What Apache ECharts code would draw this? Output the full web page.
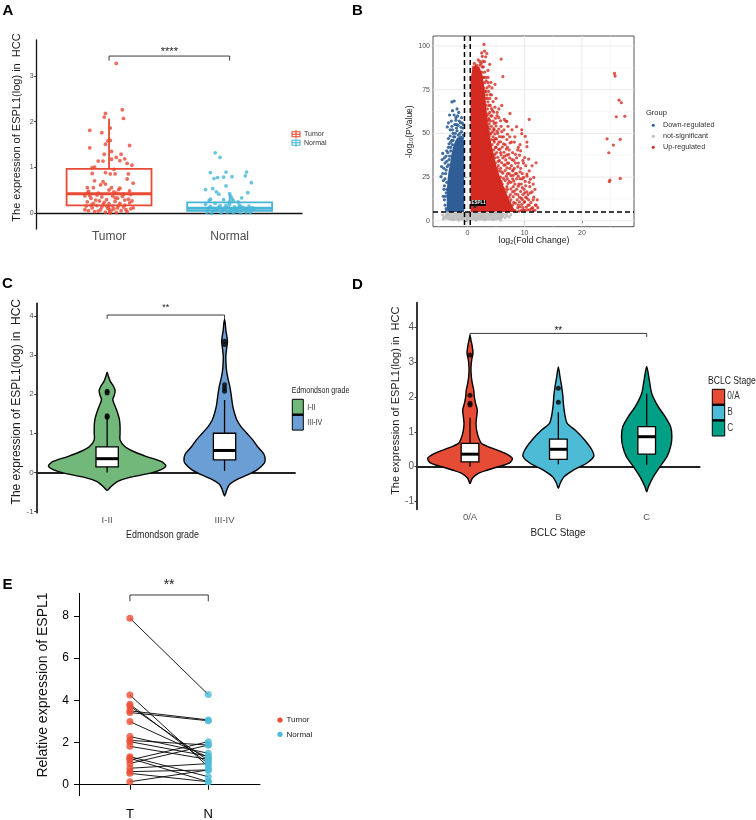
<!DOCTYPE html>
<html><head><meta charset="utf-8">
<script src="https://cdn.jsdelivr.net/npm/echarts@6/dist/echarts.min.js"></script>
<style>html,body{margin:0;padding:0;background:#fff}#c{width:756px;height:820px}</style>
</head><body><div id="c"></div><script>
const FONT = "'Liberation Sans', Arial, Helvetica, sans-serif";

// ---------- Panel A ----------
const aCategories = ['Tumor', 'Normal'];
const aYTicks = [0, 1, 2, 3];
const aTumorPoints = [[0.06,3.27],[-0.03,2.18],[0.11,2.26],[-0.04,2.10],[0.12,2.07],[0.01,1.86],[-0.16,1.81],[-0.06,1.76],[-0.01,1.58],[0.01,1.59],[-0.03,1.51],[0.17,1.48],[-0.16,1.43],[-0.04,1.29],[0.02,1.35],[0.10,1.29],[0.06,1.22],[0.13,1.19],[-0.09,1.14],[-0.05,1.14],[0.02,1.18],[0.09,1.15],[0.15,1.09],[0.19,1.05],[-0.14,1.00],[-0.12,1.01],[0.04,0.96],[-0.14,0.87],[-0.03,0.89],[0.01,0.86],[0.05,0.86],[0.16,0.86],[0.15,0.75],[0.20,0.66],[-0.12,0.71],[-0.05,0.69],[-0.03,0.64],[-0.07,0.62],[-0.18,0.56],[-0.13,0.56],[0.02,0.56],[0.09,0.55],[0.17,0.49],[-0.17,0.48],[0.00,0.51],[0.04,0.47],[0.08,0.52],[0.12,0.42],[-0.09,0.44],[0.06,0.44],[0.18,0.41],[-0.18,0.44],[-0.20,0.38],[-0.15,0.33],[-0.10,0.40],[-0.06,0.36],[-0.02,0.30],[0.03,0.38],[0.07,0.33],[0.11,0.37],[0.16,0.31],[0.19,0.27],[-0.18,0.25],[-0.13,0.22],[-0.08,0.27],[-0.04,0.24],[0.00,0.21],[0.05,0.26],[0.09,0.22],[0.13,0.18],[0.17,0.23],[-0.19,0.16],[-0.14,0.12],[-0.10,0.17],[-0.06,0.14],[-0.01,0.11],[0.03,0.16],[0.07,0.12],[0.12,0.14],[0.18,0.10],[-0.17,0.06],[-0.12,0.04],[-0.07,0.08],[-0.03,0.03],[0.02,0.07],[0.06,0.02],[0.10,0.06],[0.15,0.04],[0.20,0.12],[-0.20,0.08],[-0.15,0.18],[-0.09,0.05],[-0.05,0.19],[0.01,0.01],[0.04,0.10],[0.08,0.17],[0.14,0.08],[-0.11,0.29],[0.13,0.29],[-0.02,0.16],[0.05,0.34],[-0.16,0.39]];
const aNormalPoints = [[-0.12,1.32],[-0.08,1.22],[-0.16,0.89],[-0.03,0.90],[0.14,0.90],[-0.13,0.76],[-0.10,0.78],[-0.05,0.79],[0.02,0.80],[0.13,0.82],[0.18,0.67],[-0.03,0.60],[-0.20,0.52],[-0.14,0.54],[-0.11,0.47],[-0.09,0.42],[0.15,0.45],[0.00,0.43],[0.01,0.37],[0.10,0.34],[-0.16,0.31],[-0.17,0.28],[-0.05,0.30],[0.03,0.28],[0.07,0.25],[-0.20,0.20],[-0.16,0.15],[-0.12,0.22],[-0.08,0.17],[-0.04,0.12],[0.00,0.20],[0.04,0.14],[0.08,0.18],[0.12,0.11],[0.16,0.16],[0.20,0.09],[-0.18,0.08],[-0.14,0.04],[-0.10,0.10],[-0.06,0.06],[-0.02,0.03],[0.02,0.08],[0.06,0.05],[0.10,0.07],[0.14,0.03],[0.18,0.06],[-0.19,0.02],[-0.13,0.11],[-0.07,0.01],[-0.01,0.13],[0.03,0.02],[0.05,0.10],[0.09,0.01],[0.11,0.13],[0.15,0.09],[0.19,0.12],[-0.17,0.12],[-0.11,0.06],[-0.05,0.09],[0.01,0.05],[0.07,0.11],[0.13,0.06],[0.17,0.02],[-0.15,0.00],[-0.03,0.18],[0.05,0.04],[0.09,0.15],[-0.09,0.13],[0.00,0.25],[0.02,0.32]];
// low whisker, Q1, median, Q3, high whisker
const aTumorBox = [0.0, 0.175, 0.43, 0.97, 2.07];
const aNormalBox = [0.0, 0.057, 0.11, 0.24, 0.42];
const aSig = [[1, 2, 3.43, 0.1]];
const aSigText = ['****'];

// ---------- Panel B ----------
const bGroups = ['Down-regulated', 'not-significant', 'Up-regulated'];
const bXTicks = [0, 10, 20];
const bYTicks = [0, 25, 50, 75, 100];
const bXMinor = [-5, 5, 15, 25];
const bYMinor = [12.5, 37.5, 62.5, 87.5];
const bFoldCut = [-0.5, 0.5];
const bPCut = [5];
// outlines of the solid, densely over-plotted cores of each cloud
const bNotSigCore = [[-3.6,0.6],[-4.0,2.5],[-3.6,4.9],[6.1,4.9],[6.5,3.0],[6.1,1.0],[5.0,0.2],[-3.0,0.2]];
const bDownCore = [[-0.55,5],[-3.4,5],[-3.6,8],[-3.6,15],[-3.5,22],[-3.3,28],[-3.0,33],[-2.8,38],[-2.5,42],[-2.2,45],[-1.8,47.5],[-1.2,48],[-0.7,47],[-0.55,45]];
const bUpCore = [[0.55,5],[0.55,80],[0.8,86],[1.4,89],[2.1,88],[2.6,84],[3.0,76],[3.2,68],[3.4,60],[3.7,52],[4.1,45],[4.6,38],[5.1,31],[5.8,24],[6.5,18],[7.3,12],[8.1,7],[8.5,5]];
const bNotSig = [[-3.9,1.5],[-3.7,2.8],[-3.4,3.9],[-3.0,1.0],[-2.5,0.6],[-1.5,0.4],[0.0,0.6],[1.5,0.4],[3.0,0.6],[4.5,0.8],[5.5,1.5],[6.0,2.5],[6.3,3.6],[5.9,4.4],[5.0,4.6],[-3.6,4.5],[6.9,3.0],[6.6,1.8],[-4.1,2.2],[0.2,4.5],[-0.2,3.0],[0.1,1.8],[-2.0,3.5],[2.5,2.5],[4.0,3.8],[-1.0,1.5],[7.3,2.2],[-4.3,3.4],[6.8,4.2],[-4.2,1.0],[7.6,3.5],[5.8,0.4]];
const bDown = [[-2.7,68],[-2.3,68.5],[-3.1,60.5],[-2.3,60.5],[-1.7,60],[-3.5,53.7],[-3.0,52],[-2.7,54],[-2.5,50],[-1.9,55],[-1.4,57],[-1.0,51],[-0.8,53],[-2.2,48],[-2.9,45],[-3.3,42],[-4.3,38.5],[-3.7,37],[-3.9,33],[-4.1,30],[-4.6,25.2],[-3.8,27],[-4.0,20],[-3.8,14],[-3.9,9],[-3.6,6],[-3.6,18],[-3.5,31],[-3.2,35],[-2.9,40],[-2.6,43.5],[-1.3,50],[-1.8,51.5],[-0.7,49],[-1.1,53.5],[-2.0,57.5],[-3.3,47],[-2.5,46],[-4.4,35],[-4.2,23],[-3.6,40],[-3.0,48.5],[-0.9,56],[-1.5,62],[-3.7,7],[-4.0,12],[-3.7,16],[-4.1,18],[-3.6,22],[-3.9,24],[-4.3,27],[-3.7,29],[-3.3,32],[-3.6,34],[-4.0,36],[-3.1,37],[-3.4,39],[-2.9,42],[-3.2,44],[-2.7,46],[-2.4,48],[-2.1,50],[-1.6,49],[-1.9,53],[-1.2,48],[-0.8,47.5],[-2.6,52],[-2.2,55],[-1.6,54.5],[-1.2,56],[-0.7,55],[-2.8,57],[-2.0,59],[-3.3,56],[-1.0,59],[-2.6,63],[-1.8,64],[-4.5,31],[-4.2,14],[-3.2,11]];
const bUp = [[2.9,100.9],[3.4,95.7],[3.2,93.8],[2.7,91.3],[5.9,92.5],[6.2,82.5],[3.9,89.5],[2.4,90],[1.9,92],[1.2,90],[3.6,86],[4.83,78],[3.3,80],[3.8,77],[4.2,72],[3.5,70],[4.0,66],[4.4,63],[3.6,61],[7.45,61.4],[10.8,58],[6.46,58],[6.9,56.8],[8.6,53.8],[7.8,52],[9.5,52],[9.5,49.8],[10.1,48.3],[7.45,44.6],[10.4,45],[10.4,42.4],[12.0,33.2],[9.3,40],[10.0,36.2],[10.7,35.3],[11.3,31.4],[10.4,26.7],[9.8,24.8],[11.0,23.8],[11.6,24.8],[4.5,57],[5.0,56],[5.5,59],[4.7,52],[5.3,50],[6.0,48],[4.6,46],[5.5,45],[6.3,44],[5.0,42],[6.8,41],[5.8,39],[7.2,38],[4.8,38],[6.2,36],[7.8,35],[8.4,33],[5.4,34],[6.6,32],[7.4,30],[8.8,31],[9.2,28],[5.2,30],[6.0,28],[7.0,27],[8.0,26],[8.6,24],[5.8,25],[6.6,23],[7.6,22],[9.0,21],[9.6,19],[10.2,20],[6.2,19],[7.0,18],[8.2,17],[8.8,15],[9.4,13],[10.0,11],[10.6,9],[11.2,7],[6.8,14],[7.6,12],[8.4,10],[9.2,8],[9.8,6],[10.4,13],[11.0,16],[5.6,21],[4.6,25],[4.4,31],[4.0,37],[3.8,44],[3.4,47],[3.6,53],[3.3,57],[3.0,63],[3.1,74],[2.9,82],[2.6,88],[1.0,87],[0.7,82],[1.6,89],[2.2,89],[4.1,50],[4.9,47],[5.7,41],[6.5,37],[7.2,33],[8.0,29],[8.6,27],[9.6,24],[10.8,22],[11.8,18],[10.0,16],[11.5,12],[12.0,9],[7.4,48],[8.2,45],[8.9,42],[8.4,38],[9.8,33],[6.4,52],[5.9,54],[4.3,60],[4.8,65],[3.8,58],[5.2,62],[6.0,66],[5.0,70],[4.3,76],[3.6,82],[2.5,96],[3.0,97],[9.0,5.5],[10.5,6.2],[11.5,5.8],
  [8.3,6],[9.4,6],[10.1,6],[10.9,6.3],[11.8,6],[8.8,7.5],[9.7,7.5],[10.3,7.8],[11.4,7.5],[12.3,7.5],[7.9,9],[8.9,9],[9.5,9.3],[10.8,9],[11.9,9],[7.4,10.5],[8.1,10.5],[9.1,10.8],[9.9,10.5],[11.1,10.5],[7.0,12],[8.7,12],[9.6,12.2],[10.7,12],[12.2,12],[6.6,13.5],[7.3,13.5],[8.0,13.8],[9.1,13.5],[10.2,13.5],[11.6,13.5],[6.2,15],[7.5,15],[8.4,15.3],[9.7,15],[10.6,15],[6.0,16.5],[6.8,16.5],[7.9,16.5],[9.3,16.8],[10.4,16.5],[11.3,16.5],[5.7,18],[6.5,18],[7.6,18.2],[8.6,18],[9.9,18],[5.5,19.5],[6.9,19.5],[8.0,19.5],[8.9,19.8],[10.9,19.5],[5.2,21],[6.1,21],[7.1,21.3],[8.3,21],[9.4,21],[11.5,21],[5.0,22.5],[5.9,22.5],[7.3,22.5],[8.1,22.8],[10.1,22.5],[4.8,24],[5.5,24],[6.3,24.2],[7.0,24],[7.9,24],[9.2,24],[4.6,25.5],[5.3,25.5],[6.8,25.5],[7.6,25.8],[8.9,25.5],[10.4,25.5],[4.4,27],[5.1,27],[6.2,27.2],[7.3,27],[8.4,27],[9.6,27],[4.9,28.5],[5.6,28.5],[6.6,28.7],[7.9,28.5],[10.8,28.5],[4.3,30],[5.8,30],[6.9,30.2],[8.2,30],[9.3,30],[4.6,31.5],[5.4,31.5],[6.4,31.8],[7.7,31.5],[10.2,31.5],[4.1,33],[4.9,33],[6.0,33.2],[7.0,33],[8.9,33],[4.4,34.5],[5.6,34.5],[6.7,34.8],[8.1,34.5],[9.7,34.5],[4.0,36],[4.8,36],[5.3,36.3],[7.4,36],[8.6,36],[3.8,37.5],[4.5,37.5],[5.9,37.7],[6.9,37.5],[9.1,37.5],[4.2,39],[5.1,39],[6.4,39.2],[7.9,39],[3.7,40.5],[4.6,40.5],[5.5,40.8],[7.3,40.5],[8.8,40.5],[4.0,42],[4.9,42],[6.1,42.2],[7.0,42],[3.6,43.5],[4.3,43.5],[5.3,43.7],[6.6,43.5],[9.2,43.5],[3.9,45],[4.7,45],[5.8,45.2],[7.7,45],[3.5,46.5],[4.2,46.5],[5.1,46.8],[6.9,46.5],[3.8,48],[4.5,48],[5.6,48.2],[6.3,48],[8.3,48],[3.4,49.5],[4.0,49.5],[4.8,49.7],[7.0,49.5],[3.7,51],[4.4,51],[5.2,51.2],[6.0,51],[3.3,52.5],[3.9,52.5],[4.6,52.7],[5.5,52.5],[3.6,54],[4.2,54],[5.0,54.2],[7.1,54],[3.2,55.5],[3.8,55.5],[4.7,55.7],[3.5,57],[4.0,57],[5.8,57.2],[6.7,57],[3.1,58.5],[3.7,58.5],[4.9,58.7],[3.4,60],[4.1,60],[5.2,60.2],[3.2,62],[3.9,62],[4.6,62.2],[3.0,64],[3.5,64],[4.2,64.2],[5.5,64],[3.3,66],[3.8,66],[3.0,68],[3.6,68],[4.5,68.2],[3.2,70],[3.9,70],[2.9,72],[3.4,72],[4.0,72.2],[3.2,74],[3.7,74],[2.8,76],[3.4,76],[3.0,79],[3.6,79],[4.1,79.2],[2.7,82],[3.2,82],[2.5,85],[3.0,85],[1.1,88],[2.8,88],[2.2,91],[3.0,91],[2.6,94],
  [25.7,84.3],[25.8,82.8],[26.5,69],[26.9,67.5],[26.0,59.5],[27.5,59.8],[24.4,46.9],[26.7,46.6],[25.5,43.3],[24.7,38.9],[24.9,23.3],[24.8,22.4],[26.7,24.2]];
// label x, label y, gene x, gene y
const bLabel = [[1.95, 10.2, 1.3, 8.0]];
const bLabelText = ['ESPL1'];

// ---------- Panel C ----------
const cCategories = ['I-II', 'III-IV'];
const cYTicks = [-1, 0, 1, 2, 3, 4];
const cViolins = [
  [[-0.46,0],[-0.36,0.034],[-0.23,0.09],[-0.12,0.2],[-0.02,0.37],[0.07,0.46],[0.17,0.5],[0.28,0.46],[0.41,0.33],[0.54,0.22],[0.66,0.15],[0.83,0.11],[1.0,0.11],[1.17,0.11],[1.34,0.105],[1.51,0.09],[1.69,0.068],[1.86,0.048],[1.98,0.062],[2.09,0.068],[2.2,0.054],[2.32,0.028],[2.45,0.011],[2.56,0]],
  [[-0.6,0],[-0.44,0.02],[-0.31,0.042],[-0.19,0.1],[-0.06,0.2],[0.07,0.28],[0.24,0.34],[0.37,0.345],[0.49,0.33],[0.66,0.28],[0.83,0.24],[1.0,0.19],[1.17,0.14],[1.34,0.105],[1.51,0.085],[1.69,0.07],[1.86,0.062],[2.03,0.054],[2.2,0.045],[2.37,0.031],[2.54,0.02],[2.7,0.014],[2.96,0.011],[3.22,0.02],[3.34,0.025],[3.47,0.02],[3.64,0.011],[3.81,0.006],[3.91,0]]
];
const cBoxes = [[0.0, 0.14, 0.35, 0.65, 1.38], [0.04, 0.32, 0.56, 1.0, 1.85]];
const cOutliers = [[1,1.41],[1,1.45],[1,2.03],[1,2.07],[2,2.07],[2,2.15],[2,2.24],[2,3.27],[2,3.35]];
const cSig = [[1, 2, 4.02, 0.1]];
const cSigText = ['**'];

// ---------- Panel D ----------
const dCategories = ['0/A', 'B', 'C'];
const dYTicks = [-1, 0, 1, 2, 3, 4];
const dViolins = [
  [[-0.48,0],[-0.33,0.026],[-0.19,0.094],[-0.1,0.19],[0.0,0.32],[0.11,0.45],[0.24,0.48],[0.38,0.4],[0.53,0.25],[0.67,0.13],[0.86,0.094],[1.05,0.075],[1.24,0.068],[1.43,0.075],[1.62,0.083],[1.81,0.064],[2.0,0.049],[2.2,0.042],[2.39,0.026],[2.58,0.015],[2.82,0.011],[3.06,0.019],[3.25,0.034],[3.44,0.026],[3.63,0.011],[3.77,0]],
  [[-0.62,0],[-0.48,0.02],[-0.29,0.065],[-0.1,0.17],[0.1,0.32],[0.29,0.4],[0.48,0.38],[0.76,0.3],[1.05,0.19],[1.24,0.1],[1.43,0.078],[1.62,0.066],[1.82,0.057],[2.05,0.05],[2.29,0.038],[2.55,0.02],[2.86,0]],
  [[-0.72,0],[-0.57,0.02],[-0.29,0.075],[0.0,0.15],[0.29,0.23],[0.57,0.27],[0.86,0.285],[1.15,0.27],[1.43,0.21],[1.72,0.13],[2.1,0.057],[2.48,0.03],[2.87,0]]
];
const dBoxes = [[0.0, 0.14, 0.36, 0.67, 1.4], [0.07, 0.21, 0.5, 0.79, 1.56], [0.05, 0.36, 0.86, 1.15, 2.1]];
const dOutliers = [[1,1.77],[1,1.82],[1,2.05],[1,3.2],[2,1.85],[2,2.25]];
const dSig = [[1, 3, 3.82, 0.1]];
const dSigText = ['**'];

// ---------- Panel E ----------
const eCategories = ['T', 'N'];
const eYTicks = [0, 2, 4, 6, 8];
const eTumor  = [7.89, 4.25, 3.81, 3.72, 3.50, 3.42, 2.99, 2.28, 2.10, 2.04, 1.82, 1.33, 1.25, 1.17, 1.01, 0.78, 0.62, 0.54, 0.14];
const eNormal = [4.27, 0.85, 1.00, 1.15, 3.07, 3.03, 1.30, 1.49, 1.88, 1.35, 1.20, 0.38, 0.14, 2.04, 1.88, 1.00, 0.70, 0.14, 0.70];
const eSig = [[1, 2, 8.99, 0.3]];
const eSigText = ['**'];

// ---------- helpers ----------
function boxRender(halfW, colors, fill, lw, medLw) {
  return function (params, api) {
    const i = params.dataIndex;
    const x = api.value(0), lo = api.value(1), q1 = api.value(2), med = api.value(3), q3 = api.value(4), hi = api.value(5);
    const c = colors[i % colors.length];
    const tl = api.coord([x - halfW, q3]), br = api.coord([x + halfW, q1]);
    const ml = api.coord([x - halfW, med]), mr = api.coord([x + halfW, med]);
    const pHi = api.coord([x, hi]), pQ3 = api.coord([x, q3]), pQ1 = api.coord([x, q1]), pLo = api.coord([x, lo]);
    return { type: 'group', children: [
      { type: 'line', shape: { x1: pHi[0], y1: pHi[1], x2: pQ3[0], y2: pQ3[1] }, style: { stroke: c, lineWidth: lw } },
      { type: 'line', shape: { x1: pLo[0], y1: pLo[1], x2: pQ1[0], y2: pQ1[1] }, style: { stroke: c, lineWidth: lw } },
      { type: 'rect', shape: { x: tl[0], y: tl[1], width: br[0] - tl[0], height: br[1] - tl[1] }, style: { fill: fill, stroke: c, lineWidth: lw } },
      { type: 'line', shape: { x1: ml[0], y1: ml[1], x2: mr[0], y2: mr[1] }, style: { stroke: c, lineWidth: medLw } }
    ]};
  };
}
function violinRender(profiles, colors) {
  return function (params, api) {
    const i = params.dataIndex, cx = api.value(0), prof = profiles[i];
    const right = prof.map(p => api.coord([cx + p[1], p[0]]));
    const left = prof.slice(1, -1).reverse().map(p => api.coord([cx - p[1], p[0]]));
    return { type: 'polygon', shape: { points: right.concat(left), smooth: 0.25 }, style: { fill: colors[i], stroke: '#000', lineWidth: 1.4 } };
  };
}
function sigRender(texts, fontSize, gap) {
  return function (params, api) {
    const x1 = api.value(0), x2 = api.value(1), y = api.value(2), d = api.value(3);
    const a = api.coord([x1, y]), b = api.coord([x2, y]), a2 = api.coord([x1, y - d]), b2 = api.coord([x2, y - d]);
    return { type: 'group', children: [
      { type: 'line', shape: { x1: a[0], y1: a[1], x2: b[0], y2: b[1] }, style: { stroke: '#222', lineWidth: 0.9 } },
      { type: 'line', shape: { x1: a[0], y1: a[1], x2: a2[0], y2: a2[1] }, style: { stroke: '#222', lineWidth: 0.9 } },
      { type: 'line', shape: { x1: b[0], y1: b[1], x2: b2[0], y2: b2[1] }, style: { stroke: '#222', lineWidth: 0.9 } },
      { type: 'text', style: { text: texts[params.dataIndex], x: (a[0] + b[0]) / 2, y: a[1] + gap, textAlign: 'center', textVerticalAlign: 'bottom', fontSize: fontSize, fontFamily: FONT, fill: '#222' } }
    ]};
  };
}
function refLineRender(styleFn) {
  return function (params, api) {
    const cs = params.coordSys, v = api.value(0), orient = api.value(1), kind = api.value(2);
    let shape;
    if (orient === 0) { const p = api.coord([v, 0]); shape = { x1: p[0], y1: cs.y, x2: p[0], y2: cs.y + cs.height }; }
    else { const p = api.coord([0, v]); shape = { x1: cs.x, y1: p[1], x2: cs.x + cs.width, y2: p[1] }; }
    return { type: 'line', shape: shape, style: styleFn(kind) };
  };
}
function polyRender(polys, styles) {
  return function (params, api) {
    const i = params.dataIndex;
    return { type: 'polygon', shape: { points: polys[i].map(p => api.coord(p)) }, style: styles[i] };
  };
}
function catAxisX(gi, min, max, cats, opts) {
  const vals = cats.map((c, i) => i + 1);
  return Object.assign({
    type: 'value', gridIndex: gi, min: min, max: max,
    splitLine: { show: false },
    axisLine: { show: true, lineStyle: { color: '#000', width: 1 } },
    axisTick: { show: true, customValues: vals, length: 3, lineStyle: { color: '#333' } },
    axisLabel: { customValues: vals, formatter: v => cats[Math.round(v) - 1] || '', color: '#4d4d4d', fontSize: 9, fontFamily: FONT, margin: 3 }
  }, opts || {});
}
function valAxisY(gi, min, max, ticks, opts) {
  return Object.assign({
    type: 'value', gridIndex: gi, min: min, max: max,
    splitLine: { show: false },
    axisLine: { show: true, lineStyle: { color: '#000', width: 1 } },
    axisTick: { show: true, customValues: ticks, length: 2.5, lineStyle: { color: '#333' } },
    axisLabel: { customValues: ticks, color: '#4d4d4d', fontSize: 8, fontFamily: FONT, margin: 3 }
  }, opts || {});
}
function txt(text, x, y, size, opts) {
  const o = opts || {};
  return { type: 'text', x: x, y: y, rotation: o.rot || 0, scaleX: o.sx || 1, z: 100,
    style: Object.assign({ text: text, fontSize: size, fontFamily: FONT, fontWeight: o.weight || 'normal',
      fill: o.color || '#222', textAlign: o.align || 'center', textVerticalAlign: 'middle' }, o.rich ? { rich: o.rich } : {}) };
}

const chart = echarts.init(document.getElementById('c'), null, { renderer: 'canvas' });
const VERT = Math.PI / 2;
const colA = ['#e84a34', '#47b6d8'];
const colC = ['#72b87a', '#6a9ed4'];
const colD = ['#e64b35', '#4dbbd5', '#00a087'];
const colB = { down: '#2f5e97', ns: '#bdbdbd', up: '#d42a21' };
const NARROW_SX = 0.83;

const refLinesB = []
  .concat(bXMinor.map(v => [v, 0, 0])).concat(bYMinor.map(v => [v, 1, 0]))
  .concat(bXTicks.map(v => [v, 0, 1])).concat(bYTicks.map(v => [v, 1, 1]));
const cutLinesB = bFoldCut.map(v => [v, 0, 2]).concat(bPCut.map(v => [v, 1, 2]));

const option = {
  animation: false,
  backgroundColor: '#fff',
  grid: [
    { left: 36.7, top: 40, width: 265.3, height: 189, containLabel: false, outerBoundsMode: 'none' },
    { left: 433, top: 36, width: 201, height: 190.7, show: true, borderColor: '#444', borderWidth: 0.9, backgroundColor: '#fff', containLabel: false, outerBoundsMode: 'none' },
    { left: 36.7, top: 303.3, width: 258.3, height: 209.4, containLabel: false, outerBoundsMode: 'none' },
    { left: 417, top: 302.7, width: 282.7, height: 206.6, containLabel: false, outerBoundsMode: 'none' },
    { left: 79, top: 593.3, width: 181, height: 202.4, containLabel: false, outerBoundsMode: 'none' }
  ],
  xAxis: [
    catAxisX(0, 0.4, 2.6, aCategories, {
      axisLine: { show: true, lineStyle: { color: '#111', width: 1.3 } }, axisTick: { show: false },
      axisLabel: { customValues: [1, 2], formatter: v => aCategories[Math.round(v) - 1] || '', color: '#4d4d4d', fontSize: 12, fontFamily: FONT, margin: 2 } }),
    { type: 'value', gridIndex: 1, min: -6, max: 29.1, splitLine: { show: false },
      axisLine: { show: false },
      axisTick: { show: true, customValues: bXTicks, length: 2.5, lineStyle: { color: '#333', width: 0.8 } },
      axisLabel: { customValues: bXTicks, color: '#4d4d4d', fontSize: 7, fontFamily: FONT, margin: 3 } },
    catAxisX(2, 0.4, 2.6, cCategories, {
      axisLine: { show: true, lineStyle: { color: '#222', width: 1.8 } },
      axisLabel: { customValues: [1, 2], formatter: v => cCategories[Math.round(v) - 1] || '', color: '#555', fontSize: 9.5, fontFamily: FONT, margin: 3 } }),
    catAxisX(3, 0.4, 3.6, dCategories, {
      axisLine: { show: true, lineStyle: { color: '#222', width: 1.8 } },
      axisLabel: { customValues: [1, 2, 3], formatter: v => dCategories[Math.round(v) - 1] || '', color: '#555', fontSize: 9.5, fontFamily: FONT, margin: 3 } }),
    catAxisX(4, 0.35, 2.66, eCategories, {
      axisLine: { show: true, lineStyle: { color: '#000', width: 1 } },
      axisTick: { show: true, customValues: [1, 2], length: 5, lineStyle: { color: '#000', width: 1 } },
      axisLabel: { customValues: [1, 2], formatter: v => eCategories[Math.round(v) - 1] || '', color: '#000', fontSize: 13, fontFamily: FONT, margin: 12 } })
  ],
  yAxis: [
    valAxisY(0, -0.34, 3.78, aYTicks, { axisLine: { show: true, lineStyle: { color: '#111', width: 1.3 } },
      axisLabel: { customValues: aYTicks, color: '#4d4d4d', fontSize: 7, fontFamily: FONT, margin: 3 } }),
    { type: 'value', gridIndex: 1, min: -3.4, max: 105.7, splitLine: { show: false },
      axisLine: { show: false },
      axisTick: { show: true, customValues: bYTicks, length: 2.5, lineStyle: { color: '#333', width: 0.8 } },
      axisLabel: { customValues: bYTicks, color: '#4d4d4d', fontSize: 7, fontFamily: FONT, margin: 3 } },
    valAxisY(2, -1.03, 4.32, cYTicks, { axisLine: { show: true, lineStyle: { color: '#222', width: 1.8 } },
      axisLabel: { customValues: cYTicks, color: '#555', fontSize: 8, fontFamily: FONT, margin: 3 } }),
    valAxisY(3, -1.22, 4.7, dYTicks, { axisLine: { show: true, lineStyle: { color: '#222', width: 1.8 } },
      axisLabel: { customValues: dYTicks, color: '#555', fontSize: 10, fontFamily: FONT, margin: 3 } }),
    valAxisY(4, -0.52, 9.07, eYTicks, { axisLine: { show: true, lineStyle: { color: '#000', width: 1 } },
      axisTick: { show: true, customValues: eYTicks, length: 5, lineStyle: { color: '#000', width: 1 } },
      axisLabel: { customValues: eYTicks, color: '#000', fontSize: 12, fontFamily: FONT, margin: 10 } })
  ],
  series: [
    // ---- A ----
    { type: 'scatter', xAxisIndex: 0, yAxisIndex: 0, symbolSize: 3.8, itemStyle: { color: colA[0] },
      data: aTumorPoints.map(p => [1 + p[0], p[1]]) },
    { type: 'scatter', xAxisIndex: 0, yAxisIndex: 0, symbolSize: 3.8, itemStyle: { color: colA[1] },
      data: aNormalPoints.map(p => [2 + p[0], p[1]]) },
    { type: 'custom', xAxisIndex: 0, yAxisIndex: 0, renderItem: boxRender(0.352, colA, 'rgba(255,255,255,0)', 1.8, 3),
      data: [[1].concat(aTumorBox), [2].concat(aNormalBox)] },
    { type: 'custom', xAxisIndex: 0, yAxisIndex: 0, renderItem: sigRender(aSigText, 11, 1), data: aSig },
    // ---- B ----
    { type: 'custom', xAxisIndex: 1, yAxisIndex: 1, z: 1, silent: true,
      renderItem: refLineRender(k => k === 1 ? { stroke: '#e6e6e6', lineWidth: 0.9 } : { stroke: '#f2f2f2', lineWidth: 0.5 }),
      data: refLinesB },
    { type: 'custom', xAxisIndex: 1, yAxisIndex: 1, z: 2, renderItem: polyRender([bNotSigCore, bDownCore, bUpCore],
      [{ fill: colB.ns, opacity: 0.9 }, { fill: colB.down }, { fill: colB.up }]), data: [[0, 0], [1, 0], [2, 0]] },
    { type: 'scatter', name: bGroups[1], xAxisIndex: 1, yAxisIndex: 1, z: 3, symbolSize: 3.2, itemStyle: { color: colB.ns, opacity: 0.9 }, data: bNotSig },
    { type: 'scatter', name: bGroups[0], xAxisIndex: 1, yAxisIndex: 1, z: 3, symbolSize: 3.2, itemStyle: { color: colB.down, opacity: 0.9 }, data: bDown },
    { type: 'scatter', name: bGroups[2], xAxisIndex: 1, yAxisIndex: 1, z: 3, symbolSize: 3.2, itemStyle: { color: colB.up, opacity: 0.8 }, data: bUp },
    { type: 'custom', xAxisIndex: 1, yAxisIndex: 1, z: 5, silent: true,
      renderItem: refLineRender(() => ({ stroke: '#000', lineWidth: 1.5, lineDash: [5, 3] })), data: cutLinesB },
    { type: 'custom', xAxisIndex: 1, yAxisIndex: 1, z: 6, data: bLabel,
      renderItem: function (params, api) {
        const l = api.coord([api.value(0), api.value(1)]), g = api.coord([api.value(2), api.value(3)]);
        return { type: 'group', children: [
          { type: 'circle', shape: { cx: g[0], cy: g[1], r: 1.6 }, style: { fill: '#333' } },
          { type: 'rect', shape: { x: l[0] - 7.5, y: l[1] - 3, width: 15, height: 6, r: 1 }, style: { fill: '#000' } },
          { type: 'text', style: { text: bLabelText[params.dataIndex], x: l[0], y: l[1], textAlign: 'center', textVerticalAlign: 'middle', fontSize: 4.5, fontWeight: 'bold', fontFamily: FONT, fill: '#fff' } }
        ]};
      } },
    // ---- C ----
    { type: 'custom', xAxisIndex: 2, yAxisIndex: 2, renderItem: violinRender(cViolins, colC), data: [[1, 0], [2, 0]] },
    { type: 'custom', xAxisIndex: 2, yAxisIndex: 2, renderItem: boxRender(0.095, ['#000'], '#fff', 1.3, 3),
      data: cBoxes.map((b, i) => [i + 1].concat(b)) },
    { type: 'scatter', xAxisIndex: 2, yAxisIndex: 2, symbolSize: 5, itemStyle: { color: '#000' }, data: cOutliers },
    { type: 'custom', xAxisIndex: 2, yAxisIndex: 2, renderItem: sigRender(cSigText, 9, -3), data: cSig },
    // ---- D ----
    { type: 'custom', xAxisIndex: 3, yAxisIndex: 3, renderItem: violinRender(dViolins, colD), data: [[1, 0], [2, 0], [3, 0]] },
    { type: 'custom', xAxisIndex: 3, yAxisIndex: 3, renderItem: boxRender(0.1, ['#000'], '#fff', 1.3, 3),
      data: dBoxes.map((b, i) => [i + 1].concat(b)) },
    { type: 'scatter', xAxisIndex: 3, yAxisIndex: 3, symbolSize: 5, itemStyle: { color: '#000' }, data: dOutliers },
    { type: 'custom', xAxisIndex: 3, yAxisIndex: 3, renderItem: sigRender(dSigText, 10, 3), data: dSig },
    // ---- E ----
    { type: 'custom', xAxisIndex: 4, yAxisIndex: 4,
      renderItem: function (params, api) {
        const a = api.coord([1, api.value(0)]), b = api.coord([2, api.value(1)]);
        return { type: 'line', shape: { x1: a[0], y1: a[1], x2: b[0], y2: b[1] }, style: { stroke: '#000', lineWidth: 0.9 } };
      }, data: eTumor.map((t, i) => [t, eNormal[i]]) },
    { type: 'scatter', xAxisIndex: 4, yAxisIndex: 4, symbolSize: 7, itemStyle: { color: '#ee4c33' }, data: eTumor.map(v => [1, v]) },
    { type: 'scatter', xAxisIndex: 4, yAxisIndex: 4, symbolSize: 7, itemStyle: { color: '#4bbbd8' }, data: eNormal.map(v => [2, v]) },
    { type: 'custom', xAxisIndex: 4, yAxisIndex: 4, renderItem: sigRender(eSigText, 14, -3), data: eSig }
  ],
  graphic: [
    // panel letters
    txt('A', 8, 11, 15, { weight: 'bold', color: '#000' }),
    txt('B', 357.5, 11, 15, { weight: 'bold', color: '#000' }),
    txt('C', 7.5, 283.5, 15, { weight: 'bold', color: '#000' }),
    txt('D', 357.5, 284.5, 15, { weight: 'bold', color: '#000' }),
    txt('E', 7.5, 585, 15, { weight: 'bold', color: '#000' }),
    // axis titles
    txt('The expression of ESPL1(log) in  HCC', 17, 127.5, 11, { rot: VERT, color: '#1a1a1a' }),
    txt('-log{s|10}(PValue)', 409.7, 131.7, 8.5, { rot: VERT, color: '#222', rich: { s: { fontSize: 5.5, fontFamily: FONT, fill: '#222', verticalAlign: 'bottom', lineHeight: 9 } } }),
    txt('log{s|2}(Fold Change)', 534, 241, 8.8, { color: '#222', rich: { s: { fontSize: 5.5, fontFamily: FONT, fill: '#222', verticalAlign: 'bottom', lineHeight: 9 } } }),
    txt('The expression of ESPL1(log) in  HCC', 16.7, 401.7, 12, { rot: VERT, color: '#1a1a1a' }),
    txt('Edmondson grade', 162.5, 535, 10.5, { sx: 0.85, color: '#222' }),
    txt('The expression of ESPL1(log) in  HCC', 396.3, 400.7, 11, { rot: VERT, color: '#1a1a1a' }),
    txt('BCLC Stage', 558, 533, 11, { sx: 0.9, color: '#222' }),
    txt('Relative expression of ESPL1', 43.3, 685, 14, { rot: VERT, color: '#111' }),
    // legend A
    { type: 'group', children: [0, 1].map(i => {
      const cy = [134.3, 142.7][i];
      return { type: 'group', children: [
        { type: 'rect', shape: { x: 292, y: cy - 2.5, width: 8, height: 5 }, style: { fill: 'none', stroke: colA[i], lineWidth: 1.1 } },
        { type: 'line', shape: { x1: 292, y1: cy, x2: 300, y2: cy }, style: { stroke: colA[i], lineWidth: 1.1 } },
        { type: 'line', shape: { x1: 296, y1: cy - 4, x2: 296, y2: cy + 4 }, style: { stroke: colA[i], lineWidth: 1.1 } }
      ]};
    }) },
    txt(aCategories[0], 304, 134.3, 7, { align: 'left', color: '#333' }),
    txt(aCategories[1], 304, 142.7, 7, { align: 'left', color: '#333' }),
    // legend B
    txt('Group', 646, 113.3, 7.5, { align: 'left', color: '#222' }),
    { type: 'circle', shape: { cx: 653.3, cy: 125.3, r: 1.5 }, style: { fill: colB.down } },
    { type: 'circle', shape: { cx: 653.3, cy: 136.3, r: 1.5 }, style: { fill: colB.ns } },
    { type: 'circle', shape: { cx: 653.3, cy: 147.3, r: 1.5 }, style: { fill: colB.up } },
    txt(bGroups[0], 663, 125.3, 7.3, { align: 'left', color: '#333' }),
    txt(bGroups[1], 663, 136.3, 7.3, { align: 'left', color: '#333' }),
    txt(bGroups[2], 663, 147.3, 7.3, { align: 'left', color: '#333' }),
    // legend C
    txt('Edmondson grade', 291.7, 390.7, 8.5, { align: 'left', sx: NARROW_SX, color: '#222' }),
    { type: 'rect', shape: { x: 292.3, y: 399.3, width: 11, height: 15.4 }, style: { fill: colC[0], stroke: '#000', lineWidth: 1 } },
    { type: 'rect', shape: { x: 292.3, y: 414.7, width: 11, height: 15.4 }, style: { fill: colC[1], stroke: '#000', lineWidth: 1 } },
    { type: 'line', shape: { x1: 292.3, y1: 414.7, x2: 303.3, y2: 414.7 }, style: { stroke: '#000', lineWidth: 2.4 } },
    txt(cCategories[0], 307.3, 407.3, 8.5, { align: 'left', sx: NARROW_SX, color: '#333' }),
    txt(cCategories[1], 307.3, 422.7, 8.5, { align: 'left', sx: NARROW_SX, color: '#333' }),
    // legend D
    txt('BCLC Stage', 708, 380.7, 10.5, { align: 'left', sx: 0.82, color: '#222' }),
    { type: 'rect', shape: { x: 712.3, y: 389.3, width: 12.4, height: 15.5 }, style: { fill: colD[0], stroke: '#000', lineWidth: 1 } },
    { type: 'rect', shape: { x: 712.3, y: 404.8, width: 12.4, height: 15.6 }, style: { fill: colD[1], stroke: '#000', lineWidth: 1 } },
    { type: 'rect', shape: { x: 712.3, y: 420.4, width: 12.4, height: 15.6 }, style: { fill: colD[2], stroke: '#000', lineWidth: 1 } },
    { type: 'line', shape: { x1: 712.3, y1: 404.8, x2: 724.7, y2: 404.8 }, style: { stroke: '#000', lineWidth: 2.4 } },
    { type: 'line', shape: { x1: 712.3, y1: 420.4, x2: 724.7, y2: 420.4 }, style: { stroke: '#000', lineWidth: 2.4 } },
    txt(dCategories[0], 727.3, 396.7, 10, { align: 'left', sx: 0.82, color: '#333' }),
    txt(dCategories[1], 727.3, 412.7, 10, { align: 'left', sx: 0.82, color: '#333' }),
    txt(dCategories[2], 727.3, 428.3, 10, { align: 'left', sx: 0.82, color: '#333' }),
    // legend E
    { type: 'circle', shape: { cx: 280, cy: 720, r: 2.6 }, style: { fill: '#ee4c33' } },
    { type: 'circle', shape: { cx: 280, cy: 734.3, r: 2.6 }, style: { fill: '#4bbbd8' } },
    txt('Tumor', 286.5, 720, 8, { align: 'left', color: '#222' }),
    txt('Normal', 286.5, 734.3, 8, { align: 'left', color: '#222' })
  ]
};
chart.setOption(option);
</script></body></html>
